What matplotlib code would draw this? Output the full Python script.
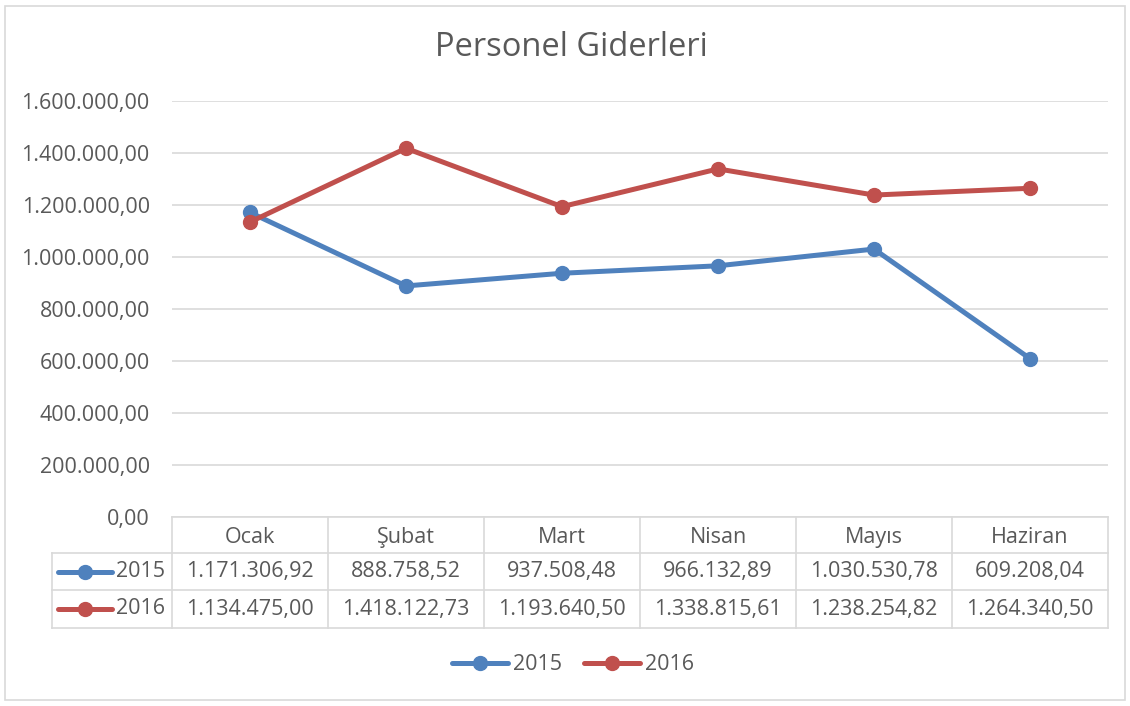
import matplotlib
matplotlib.use("Agg")
import matplotlib.pyplot as plt
from matplotlib.lines import Line2D
from matplotlib.patches import Rectangle
import matplotlib.transforms as mtrans
import matplotlib.ticker as mticker

categories = ["Ocak", "Şubat", "Mart", "Nisan", "Mayıs", "Haziran"]
series_names = ["2015", "2016"]
values_2015 = [1171306.92, 888758.52, 937508.48, 966132.89, 1030530.78, 609208.04]
values_2016 = [1134475.00, 1418122.73, 1193640.50, 1338815.61, 1238254.82, 1264340.50]
colors = ["#4f81bd", "#c0504d"]
title = "Personel Giderleri"

plt.rcParams['font.family'] = ['Open Sans', 'DejaVu Sans']
TXT = "#595959"
GRID = "#d9d9d9"
FS = 15.5
LW = 3.6
MS = 10


def tr_fmt(v):
    s = f"{v:,.2f}"
    return s.replace(",", "X").replace(".", ",").replace("X", ".")


W, H = 1130, 706
fig = plt.figure(figsize=(W / 100, H / 100), dpi=100)
fig.patch.set_facecolor("white")
fig.patches.append(Rectangle((5 / W, 6 / H), 1120 / W, 694 / H, transform=fig.transFigure,
                             fill=False, edgecolor=GRID, linewidth=1.2))

L, R, T, B = 172, 1108, 101, 517
ax = fig.add_axes([L / W, (H - B) / H, (R - L) / W, (B - T) / H])
x = list(range(len(categories)))
ax.set_xlim(-0.5, len(categories) - 0.5)
ax.set_ylim(0, 1600000)
ax.yaxis.set_major_locator(mticker.MultipleLocator(200000))
ax.yaxis.set_major_formatter(mticker.FuncFormatter(lambda v, p: tr_fmt(v)))
ax.tick_params(axis='y', length=0, pad=16, labelsize=FS, labelcolor=TXT)
ax.set_xticks([])
for s in ax.spines.values():
    s.set_visible(False)
ax.grid(axis='y', color=GRID, linewidth=1.2)
ax.set_axisbelow(True)
for lbl in ax.get_yticklabels():
    lbl.set_clip_on(False)

for vals, c, n in zip([values_2015, values_2016], colors, series_names):
    ax.plot(x, vals, color=c, linewidth=LW, marker='o', markersize=MS, label=n,
            solid_capstyle='round', zorder=3)

fig.text(571 / W, (H - 47) / H, title, ha='center', va='center', fontsize=23.5, color=TXT)

# Data table
bt = mtrans.blended_transform_factory(ax.transData, ax.transAxes)
ah = B - T
row_y = [(B - B) / ah, (B - 553) / ah, (B - 590) / ah, (B - 628) / ah]
left_x = -0.5 - 120 / 156.0
kw = dict(transform=bt, clip_on=False, color=GRID, linewidth=1.2)
ax.plot([-0.5, len(categories) - 0.5], [row_y[0]] * 2, **kw)
for ry in row_y[1:]:
    ax.plot([left_x, len(categories) - 0.5], [ry] * 2, **kw)
for i in range(len(categories) + 1):
    ax.plot([i - 0.5] * 2, [row_y[0], row_y[3]], **kw)
ax.plot([left_x] * 2, [row_y[1], row_y[3]], **kw)

for i, cat in enumerate(categories):
    ax.text(i, (row_y[0] + row_y[1]) / 2 - 0.006, cat, transform=bt, ha='center', va='center',
            fontsize=FS, color=TXT, clip_on=False)
for r, (vals, c, n) in enumerate(zip([values_2015, values_2016], colors, series_names)):
    yc = (row_y[r + 1] + row_y[r + 2]) / 2
    for i, v in enumerate(vals):
        ax.text(i, yc, tr_fmt(v), transform=bt, ha='center', va='center',
                fontsize=FS, color=TXT, clip_on=False)
    lx0 = left_x + 6 / 156
    lx1 = left_x + 60 / 156
    ax.plot([lx0, lx1], [yc, yc], transform=bt, clip_on=False, color=c, linewidth=LW,
            solid_capstyle='round')
    ax.plot([(lx0 + lx1) / 2], [yc], transform=bt, clip_on=False, color=c, marker='o',
            markersize=MS)
    ax.text(lx1 + 4 / 156, yc, n, transform=bt, ha='left', va='center', fontsize=FS,
            color=TXT, clip_on=False)

handles = [Line2D([], [], color=c, linewidth=LW, marker='o', markersize=MS,
                  solid_capstyle='round') for c in colors]
leg = fig.legend(handles, series_names, loc='center', bbox_to_anchor=(573 / W, (H - 665) / H),
                 ncol=2, frameon=False, fontsize=FS, handlelength=2.6, handletextpad=0.25,
                 columnspacing=1.0)
for t in leg.get_texts():
    t.set_color(TXT)

fig.savefig("out.png", dpi=100, facecolor="white")
